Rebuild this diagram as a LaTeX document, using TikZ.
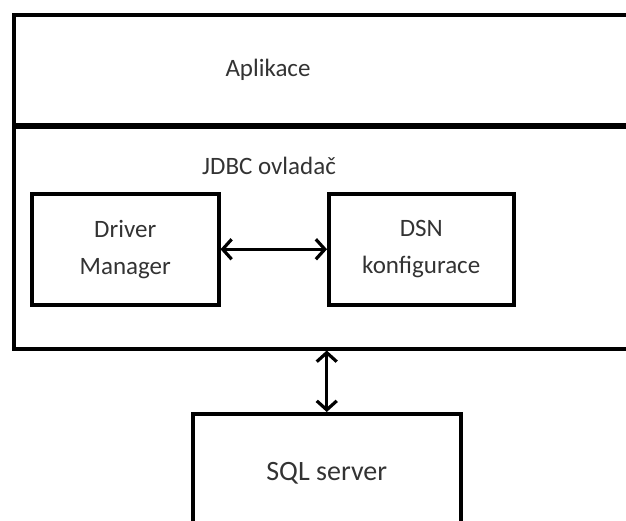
\documentclass[tikz,border=0pt]{standalone}
\usepackage{fontspec}
\setmainfont{Carlito}
\usetikzlibrary{arrows.meta}
\begin{document}
\begin{tikzpicture}[x=1pt,y=-1pt,
 box/.style={draw=black, line width=3.5pt, rectangle, inner sep=0pt, anchor=north west},
 lbl/.style={text=black!80, font=\fontsize{25}{37}\selectfont, align=center},
 conn/.style={line width=3.2pt, {Straight Barb[length=9pt,width=20pt]}-{Straight Barb[length=9pt,width=20pt]}}]
\useasboundingbox (0,0) rectangle (626,520);
\clip (0,0) rectangle (626,520);
\node[box, minimum width=700pt, minimum height=110pt] (app) at (12,13) {};
\node[box, minimum width=700pt, minimum height=222pt] (jdbc) at (12,125) {};
\node[lbl] (apptext) at (268,70) {Aplikace};
\node[lbl] (jdbctext) at (269,166) {JDBC ovladač};
\node[box, lbl, minimum width=187pt, minimum height=111pt] (dm) at (30,192) {Driver\\Manager};
\node[box, lbl, minimum width=185pt, minimum height=111pt] (dsn) at (327,192) {DSN\\konfigurace};
\node[box, lbl, font=\fontsize{28}{37}\selectfont, minimum width=268pt, minimum height=120pt] (sql) at (191,412) {SQL server};
\draw[conn] (dm.east) -- (dsn.west);
\draw[conn] (sql.north) -- (sql.north |- jdbc.south);
\end{tikzpicture}
\end{document}
